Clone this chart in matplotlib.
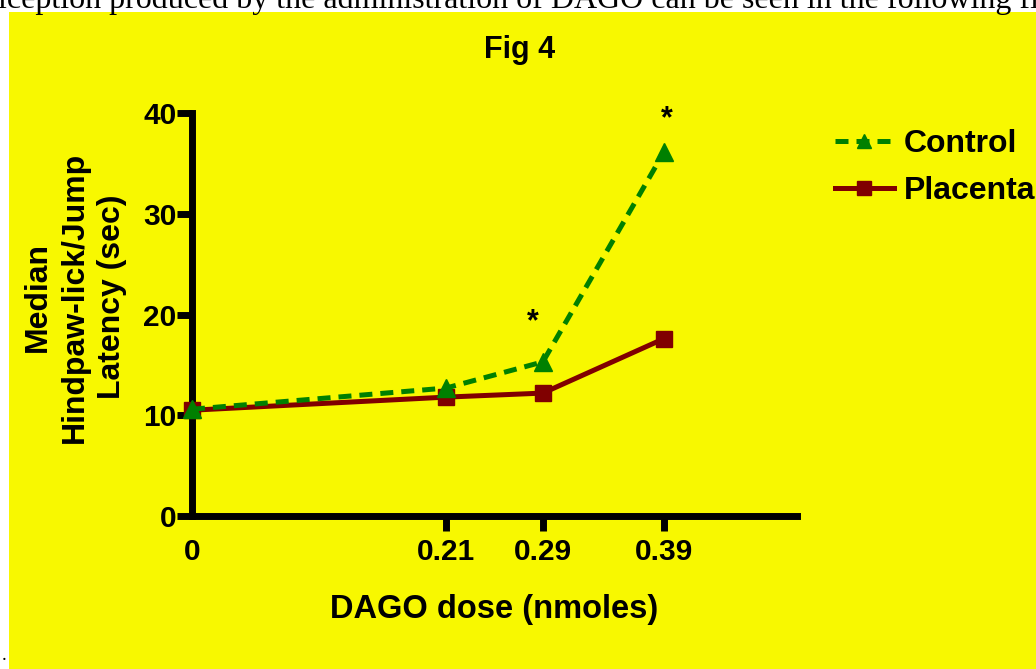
#!/usr/bin/env python
# Fig 4 - DAGO dose response, control vs placenta

import matplotlib as mtl
mtl.use('Agg')
import matplotlib.pyplot as plt
from matplotlib.patches import Rectangle

### DATA ###
dose = [0, 0.21, 0.29, 0.39]
dose_labels = ['0', '0.21', '0.29', '0.39']
control = [10.6, 12.7, 15.3, 36.1]
placenta = [10.5, 11.8, 12.2, 17.6]
star_x = [0.282, 0.392]
star_y = [19.2, 39.4]
y_ticks = [0, 10, 20, 30, 40]

yellow = '#f8f800'
green = '#008000'
maroon = '#800000'

plt.rcParams['font.family'] = ['Liberation Sans', 'DejaVu Sans']
plt.rcParams['font.weight'] = 'bold'
plt.rcParams['axes.labelweight'] = 'bold'

fig = plt.figure(figsize=(10.36, 6.69), dpi=100, facecolor='white')

# yellow panel under the chart, page text strip above it
fig.patches.append(Rectangle((9/1036., 0), 1, (669-12)/669., transform=fig.transFigure,
                             facecolor=yellow, edgecolor='none', zorder=0))
fig.text(-0.002, (669-8)/669., 'iception produced by the administration of DAGO can be seen in the following fi',
         family='Liberation Serif', fontweight='normal', fontsize=23, va='baseline', ha='left')
fig.text(0.002, (669-660)/669., '.', family='Liberation Serif', fontweight='normal', fontsize=14)

ax = fig.add_axes([192/1036., 153/669., 605/1036., 403/669.])
ax.set_facecolor('none')
ax.set_zorder(2)

ax.plot(dose, control, color=green, lw=3.6, ls=(0, (2.6, 1.6)), marker='^', ms=13,
        mec=green, label='Control', clip_on=False, zorder=4)
ax.plot(dose, placenta, color=maroon, lw=3.6, marker='s', ms=12,
        mec=maroon, label='Placenta', clip_on=False, zorder=3)

for i in range(len(star_x)):
    ax.text(star_x[i], star_y[i], '*', fontsize=22, ha='center', va='center')

ax.set_xlim(0, 0.5)
ax.set_ylim(0, 40)
ax.set_xticks(dose)
ax.set_xticklabels(dose_labels)
ax.set_yticks(y_ticks)

for s in ['top', 'right']:
    ax.spines[s].set_visible(False)
for s in ['left', 'bottom']:
    ax.spines[s].set_linewidth(5)
    ax.spines[s].set_capstyle('projecting')

ax.tick_params(axis='both', width=5, length=11, labelsize=21.5, direction='out')
ax.tick_params(axis='x', pad=5)
ax.tick_params(axis='y', pad=0)
ax.xaxis.get_major_ticks()[0].tick1line.set_visible(False)

ax.set_xlabel('DAGO dose (nmoles)', fontsize=23.5, labelpad=20)
ax.set_ylabel('Median\nHindpaw-lick/Jump\nLatency (sec)', fontsize=23, linespacing=1.3)
ax.yaxis.set_label_coords(-65/605., (669-297-153)/403.)

fig.text(520/1036., (669-50)/669., 'Fig 4', fontsize=22, ha='center', va='center')

leg = ax.legend(loc='upper left', bbox_to_anchor=(822/1036., (669-116)/669.),
                bbox_transform=fig.transFigure, frameon=False, fontsize=23,
                handlelength=1.85, handletextpad=0.3, labelspacing=0.55, borderaxespad=0,
                markerscale=0.8)

plt.savefig('out.png', dpi=100)
